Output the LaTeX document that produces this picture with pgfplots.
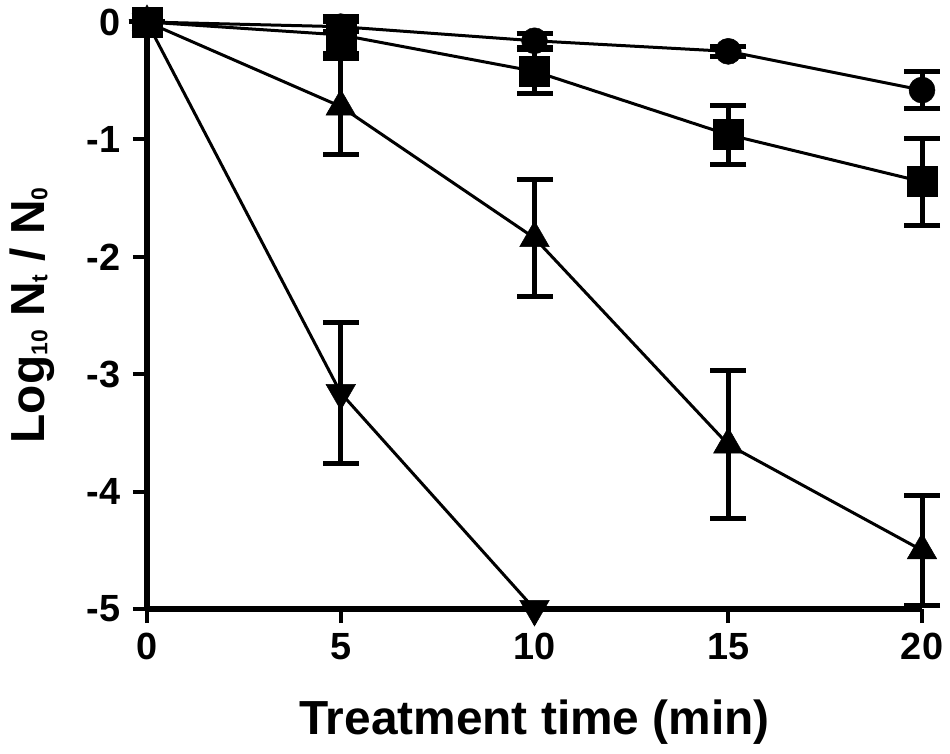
\documentclass[border=0pt]{standalone}
\usepackage{pgfplots}
\pgfplotsset{compat=1.18}
\usepackage{fontspec}
\setmainfont{Liberation Sans}
\newcommand\sub[1]{\raisebox{-3bp}{\fontsize{23}{23}\selectfont #1}}
\pgfplotstableread{
x y e
0 0 0
5 -0.04 0.04
10 -0.16 0.06
15 -0.25 0.04
20 -0.58 0.16
}\circdata
\pgfplotstableread{
x y e
0 0 0
5 -0.11 0.16
10 -0.42 0.19
15 -0.96 0.25
20 -1.36 0.37
}\squaredata
\pgfplotstableread{
x y e
0 0 0
5 -0.72 0.41
10 -1.84 0.50
15 -3.60 0.63
20 -4.50 0.47
}\tridata
\pgfplotstableread{
x y e
0 0 0
5 -3.16 0.60
10 -5.00 0
}\downdata
\begin{document}
\begin{tikzpicture}
\path[use as bounding box] (0,0) rectangle (950bp,754bp);
\begin{axis}[
  at={(147bp,145bp)}, anchor=south west,
  scale only axis, width=775bp, height=587bp,
  xmin=0, xmax=20, ymin=-5, ymax=0,
  axis x line*=bottom, axis y line*=left,
  xtick={0,5,10,15,20}, ytick={-5,-4,-3,-2,-1,0},
  minor tick num=0,
  tick align=outside, major tick length=14bp,
  tick style={line width=4bp, black},
  axis line style={line width=5bp, black},
  tick label style={font=\fontsize{38}{38}\selectfont\bfseries},
  xticklabel style={yshift=-7bp},
  yticklabel style={xshift=-9bp},
  /pgf/number format/assume math mode=true,
  xlabel={Treatment time (min)},
  ylabel={Log\sub{10} N\sub{t} / N\sub{0}},
  label style={font=\fontsize{48}{48}\selectfont\bfseries},
  xlabel style={at={(axis description cs:0.5,0)}, anchor=center, yshift=-113bp},
  ylabel style={at={(axis description cs:0,0.5)}, anchor=center, yshift=115bp},
  clip=false,
  every axis plot/.append style={black, line width=3bp,
    error bars/y dir=both, error bars/y explicit,
    error bars/error bar style={line width=5bp, black},
    error bars/error mark options={rotate=90, line width=5bp, mark size=18bp, black}},
]
\addplot[mark=*, mark size=13bp, mark options={fill=black, line width=0.5bp}]
  table[x=x, y=y, y error=e] {\circdata};
\addplot[mark=square*, mark size=15bp, mark options={fill=black, line width=0.5bp}]
  table[x=x, y=y, y error=e] {\squaredata};
\addplot[mark=triangle*, mark size=17bp, mark options={fill=black, line width=0.5bp}]
  table[x=x, y=y, y error=e] {\tridata};
\addplot[mark=triangle*, mark size=17bp, mark options={fill=black, line width=0.5bp, rotate=180}]
  table[x=x, y=y, y error=e] {\downdata};
\end{axis}
\end{tikzpicture}
\end{document}
